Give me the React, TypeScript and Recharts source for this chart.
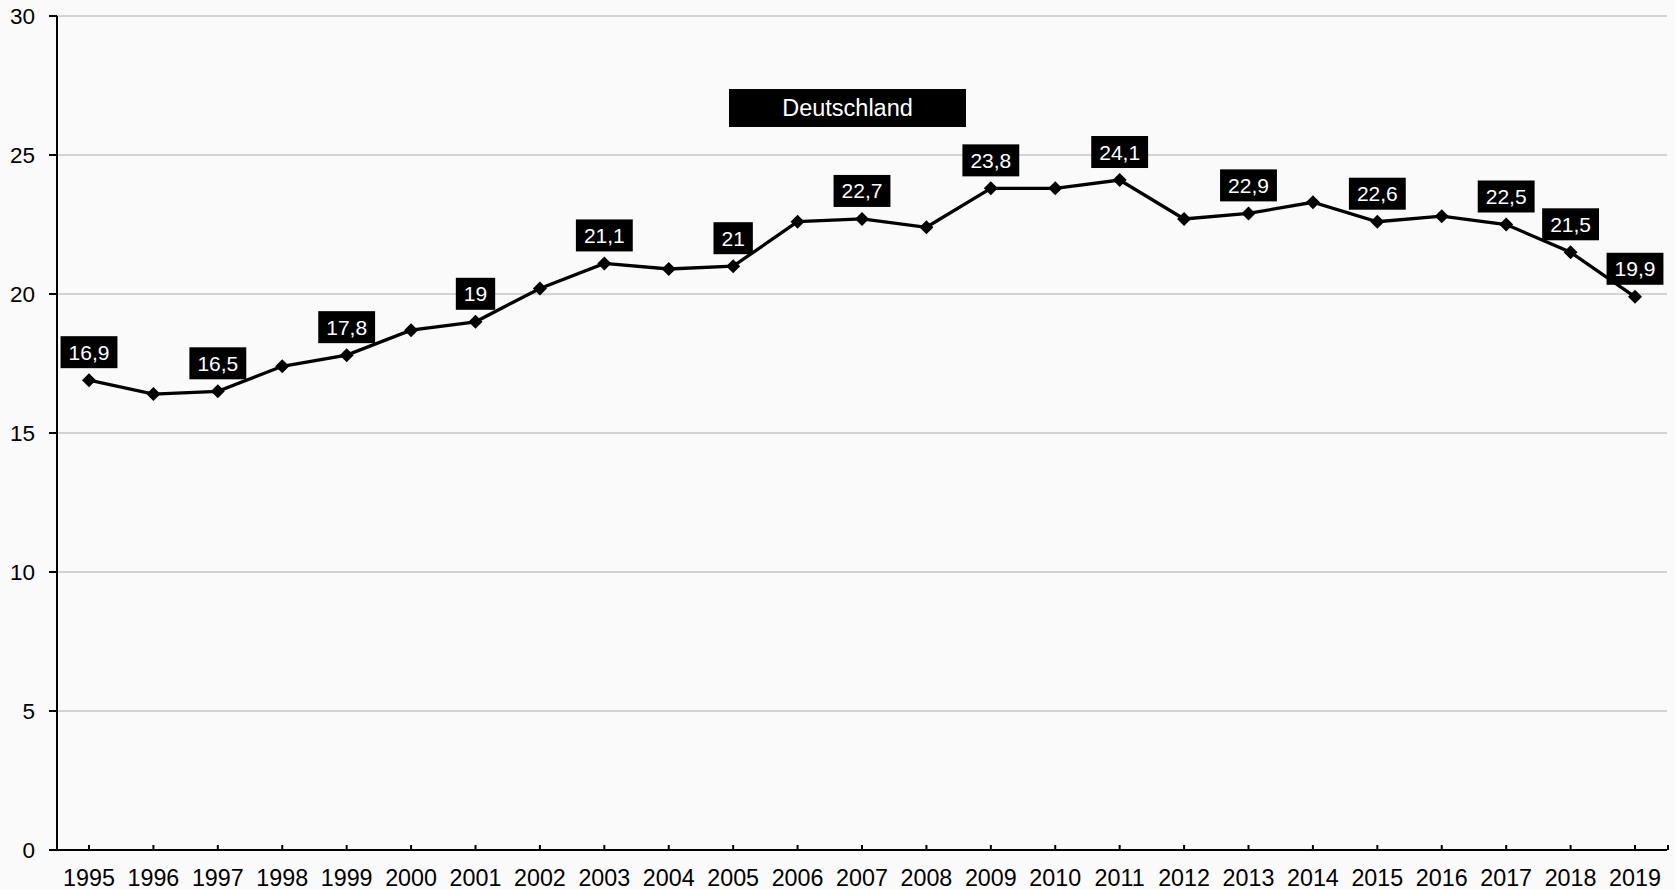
import { CartesianGrid, LabelList, Line, LineChart, XAxis, YAxis } from 'recharts';

const years = [
  '1995', '1996', '1997', '1998', '1999', '2000', '2001', '2002', '2003', '2004', '2005', '2006', '2007',
  '2008', '2009', '2010', '2011', '2012', '2013', '2014', '2015', '2016', '2017', '2018', '2019',
];
const deutschland = [
  16.9, 16.4, 16.5, 17.4, 17.8, 18.7, 19, 20.2, 21.1, 20.9, 21, 22.6, 22.7,
  22.4, 23.8, 23.8, 24.1, 22.7, 22.9, 23.3, 22.6, 22.8, 22.5, 21.5, 19.9,
];
// years whose value gets a tag
const taggedYears = [
  '1995', '1997', '1999', '2001', '2003', '2005', '2007', '2009', '2011', '2013', '2015', '2017', '2018', '2019',
];
const yTicks = [0, 5, 10, 15, 20, 25, 30];
const seriesName = 'Deutschland';

const FONT = '"Liberation Sans", Arial, sans-serif';
const EDGE_PAD = 32;

const data = years.map((year, i) => ({ year, value: deutschland[i] }));

const fmt = (v: number) => String(v).replace('.', ',');

// rough Arial advance widths at 1em
const textWidth = (s: string, size: number) =>
  s.split('').reduce((w, c) => w + (c === ',' ? 0.278 : 0.556), 0) * size;

function Diamond(props: any) {
  const { cx, cy } = props;
  if (cx == null || cy == null) return null;
  const r = 7;
  return (
    <polygon
      points={`${cx},${cy - r} ${cx + r},${cy} ${cx},${cy + r} ${cx - r},${cy}`}
      fill="#000"
    />
  );
}

function ValueTag(props: any) {
  const { x, y, value, index } = props;
  if (!taggedYears.includes(years[index])) return null;
  const text = fmt(value);
  const w = textWidth(text, 21) + 16;
  const h = 32;
  const cy = y - 28;
  return (
    <g>
      <rect x={x - w / 2} y={cy - h / 2} width={w} height={h} fill="#000" />
      <text x={x} y={cy + 7.5} textAnchor="middle" fill="#fff" fontSize={21} fontFamily={FONT}>
        {text}
      </text>
    </g>
  );
}

function YearTick(props: any) {
  const { x, y, payload, index } = props;
  const last = index === years.length - 1;
  return (
    <g>
      <line x1={x} x2={x} y1={y - 5} y2={y} stroke="#000" strokeWidth={2} />
      {last && (
        <line x1={x + EDGE_PAD + 1} x2={x + EDGE_PAD + 1} y1={y - 5} y2={y} stroke="#000" strokeWidth={2} />
      )}
      <text x={x} y={y + 35.5} textAnchor="middle" fill="#000" fontSize={23.3} fontFamily={FONT}>
        {payload.value}
      </text>
    </g>
  );
}

export default function App() {
  return (
    <div style={{ position: 'absolute', left: 0, top: 0, width: 1675, height: 890, background: '#fafafa' }}>
      <LineChart
        width={1675}
        height={890}
        data={data}
        margin={{ top: 16, right: 8, bottom: 0, left: 0 }}
      >
        <CartesianGrid horizontal vertical={false} stroke="#c6c6c6" strokeWidth={1.5} />
        <XAxis
          dataKey="year"
          padding={{ left: EDGE_PAD, right: EDGE_PAD }}
          interval={0}
          height={40}
          tickSize={0}
          tickMargin={0}
          tickLine={false}
          axisLine={{ stroke: '#000', strokeWidth: 2 }}
          tick={<YearTick />}
        />
        <YAxis
          domain={[0, 30]}
          ticks={yTicks}
          width={57}
          tickSize={8}
          tickMargin={14}
          axisLine={{ stroke: '#000', strokeWidth: 2 }}
          tickLine={{ stroke: '#000', strokeWidth: 2 }}
          tick={{ fill: '#000', fontSize: 22.5, fontFamily: FONT }}
        />
        <Line
          dataKey="value"
          name={seriesName}
          stroke="#000"
          strokeWidth={3.3}
          dot={<Diamond />}
          activeDot={false}
          isAnimationActive={false}
        >
          <LabelList dataKey="value" content={<ValueTag />} />
        </Line>
      </LineChart>
      <div
        style={{
          position: 'absolute',
          left: 729,
          top: 89,
          width: 237,
          height: 38,
          background: '#000',
          color: '#fff',
          fontFamily: FONT,
          fontSize: 23.5,
          display: 'flex',
          alignItems: 'center',
          justifyContent: 'center',
        }}
      >
        {seriesName}
      </div>
    </div>
  );
}
